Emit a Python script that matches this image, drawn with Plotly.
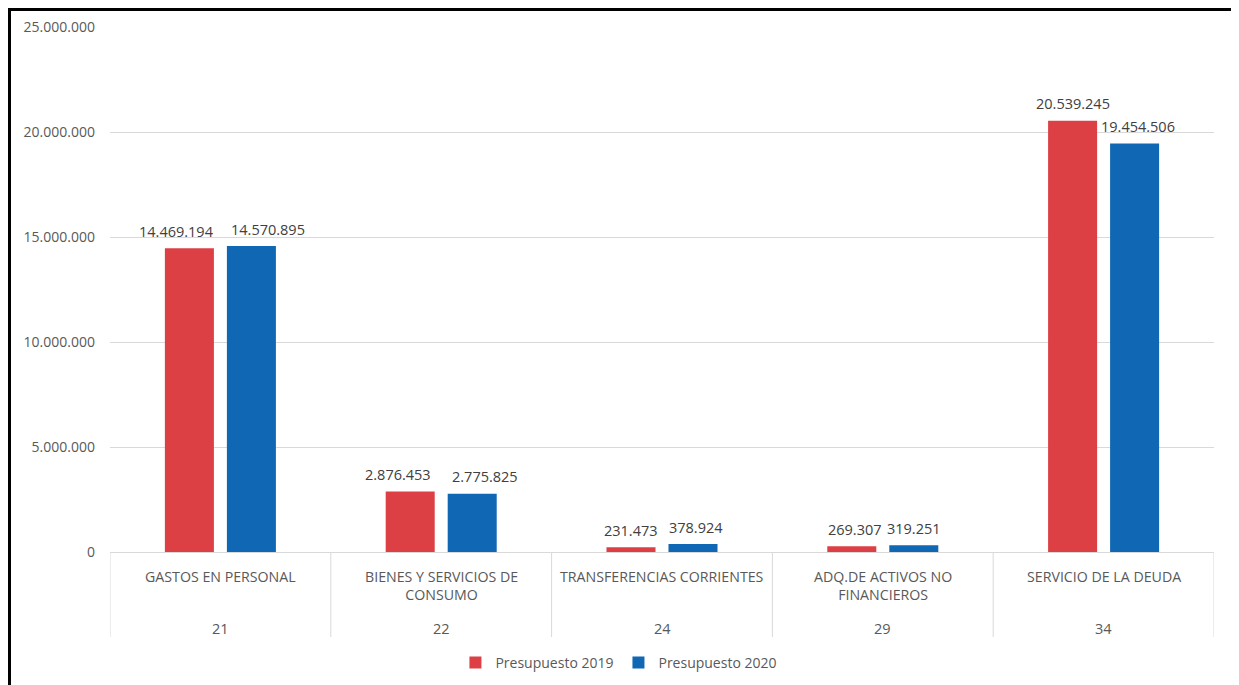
import plotly.graph_objects as go

codes = ["21", "22", "24", "29", "34"]
names = ["GASTOS EN PERSONAL", "BIENES Y SERVICIOS DE<br>CONSUMO", "TRANSFERENCIAS CORRIENTES",
         "ADQ.DE ACTIVOS NO<br>FINANCIEROS", "SERVICIO DE LA DEUDA"]
pres_2019 = [14469194, 2876453, 231473, 269307, 20539245]
pres_2020 = [14570895, 2775825, 378924, 319251, 19454506]
y_ticks = [0, 5000000, 10000000, 15000000, 20000000, 25000000]

FONT = "Open Sans"
RED = "#DC4045"
BLUE = "#1067B4"
GRID = "#D9D9D9"
TXT = "#595959"
LBL = "#404040"

OFF = 8
W, H = 1239, 685
L, T = 110 - OFF, 27 - OFF
R = W - (1214 - OFF)
B = H - (552 - OFF)
PW, PH = W - L - R, H - T - B

def px(x):
    return (x - OFF - L) / PW

def py(y):
    return (H - B - (y - OFF)) / PH

xs = list(range(len(codes)))
BAR_W = 0.222      # bar width in category units
HALF = 0.1404      # bar centre offset from category centre
# label nudges (px) to avoid collisions, like the source
nudge_2019 = [-13, -12, 0, 3, 0]
nudge_2020 = [17, 13, 3, 0, 3]

fig = go.Figure()
fig.add_trace(go.Bar(x=xs, y=pres_2019, name="Presupuesto 2019", marker_color=RED,
                     marker_line_width=0, width=BAR_W, offset=-HALF - BAR_W / 2))
fig.add_trace(go.Bar(x=xs, y=pres_2020, name="Presupuesto 2020", marker_color=BLUE,
                     marker_line_width=0, width=BAR_W, offset=HALF - BAR_W / 2))

annotations = []
for series, sign, nudges in ((pres_2019, -1, nudge_2019), (pres_2020, 1, nudge_2020)):
    for j, v in enumerate(series):
        txt = f"{v:,}".replace(",", ".")
        annotations.append(dict(x=j + sign * HALF, y=v, xref="x", yref="y", text=txt,
                                showarrow=False, yanchor="middle", xanchor="center",
                                xshift=nudges[j], yshift=17,
                                font=dict(family=FONT, size=14.5, color=LBL)))

shapes = []
for i in range(len(codes) + 1):
    shapes.append(dict(type="line", xref="x", yref="paper", x0=i - 0.5, x1=i - 0.5,
                       y0=0, y1=py(637), line=dict(color=GRID, width=1)))
shapes.append(dict(type="path", xref="paper", yref="paper",
                   path=f"M {px(9.5)} {py(720)} L {px(9.5)} {py(9.5)} L {px(1233)} {py(9.5)} L {px(1233)} {py(720)}",
                   line=dict(color="black", width=3)))

for i, (c, n) in enumerate(zip(codes, names)):
    annotations.append(dict(x=i, y=py(565), xref="x", yref="paper", text=n, showarrow=False,
                            yanchor="top", xanchor="center",
                            font=dict(family=FONT, size=14.2, color=TXT)))
    annotations.append(dict(x=i, y=py(628), xref="x", yref="paper", text=c, showarrow=False,
                            yanchor="middle", xanchor="center",
                            font=dict(family=FONT, size=14.5, color=TXT)))

fig.update_layout(
    width=W, height=H,
    margin=dict(l=L, r=R, t=T, b=B, autoexpand=False),
    paper_bgcolor="white", plot_bgcolor="white",
    separators=",.",
    barmode="overlay",
    font=dict(family=FONT, size=14, color=TXT),
    xaxis=dict(range=[-0.5, len(codes) - 0.5], showticklabels=False, showgrid=False,
               zeroline=False, showline=False, ticks=""),
    yaxis=dict(range=[0, 25000000], tickvals=y_ticks, tickformat=",.0f", showgrid=True,
               gridcolor=GRID, gridwidth=1, zeroline=True, zerolinecolor=GRID, zerolinewidth=1,
               showline=False, ticks="", ticklabelstandoff=14,
               tickfont=dict(family=FONT, size=14, color=TXT)),
    legend=dict(orientation="h", x=0.461, xanchor="center", y=py(663), yanchor="middle",
                font=dict(family=FONT, size=14, color=TXT), itemwidth=30, traceorder="normal"),
    shapes=shapes, annotations=annotations,
)

fig.write_html("out.html")
